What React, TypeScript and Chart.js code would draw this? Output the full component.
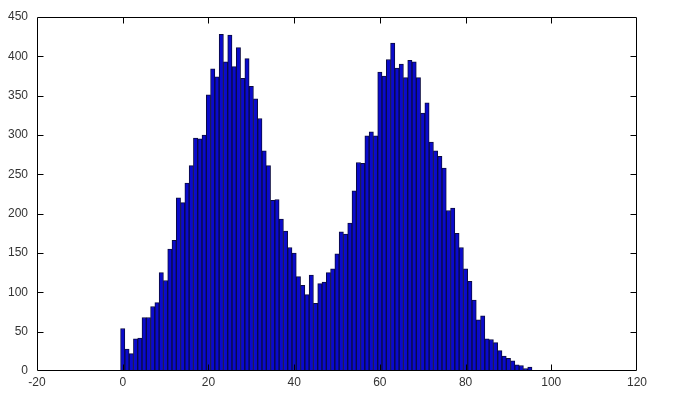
import React, { useEffect, useRef } from "react";
import { Chart, registerables } from "chart.js";

Chart.register(...registerables);

// Histogram bins (centered on integers 0..100)
const binCenters: number[] = Array.from({ length: 101 }, (_, i) => i);
const counts: number[] = [
  54, 28, 22, 41, 42, 68, 68, 82, 87, 125,
  115, 155, 166, 220, 214, 239, 261, 296, 295, 300,
  351, 384, 374, 428, 393, 427, 387, 411, 372, 397,
  362, 346, 321, 280, 261, 217, 218, 193, 178, 157,
  150, 120, 109, 97, 122, 86, 111, 113, 125, 130,
  149, 177, 174, 188, 229, 265, 264, 299, 304, 299,
  380, 375, 396, 417, 385, 390, 373, 395, 393, 373,
  328, 341, 291, 280, 273, 258, 204, 207, 175, 157,
  130, 114, 90, 65, 70, 41, 40, 36, 26, 19,
  16, 13, 8, 7, 3, 5, 0, 0, 0, 0,
  0,
];
const xTicks: number[] = [-20, 0, 20, 40, 60, 80, 100, 120];
const yTicks: number[] = [0, 50, 100, 150, 200, 250, 300, 350, 400, 450];

const framePlugin = {
  id: "frameTicks",
  afterDraw(chart: any) {
    const { ctx, chartArea, scales } = chart;
    const { left, right, top, bottom } = chartArea;
    const x = scales.x;
    const y = scales.y;
    ctx.save();
    ctx.strokeStyle = "#000";
    ctx.lineWidth = 1;
    const L = Math.round(left) + 0.5;
    const R = Math.round(right) - 0.5;
    const T = Math.round(top) + 0.5;
    const B = Math.round(bottom) - 0.5;
    ctx.beginPath();
    ctx.rect(L, T, R - L, B - T);
    const tl = 6;
    xTicks.forEach((v) => {
      if (v === xTicks[0] || v === xTicks[xTicks.length - 1]) return;
      const px = Math.round(x.getPixelForValue(v)) + 0.5;
      ctx.moveTo(px, B);
      ctx.lineTo(px, B - tl);
      ctx.moveTo(px, T);
      ctx.lineTo(px, T + tl);
    });
    yTicks.forEach((v) => {
      if (v === yTicks[0] || v === yTicks[yTicks.length - 1]) return;
      const py = Math.round(y.getPixelForValue(v)) + 0.5;
      ctx.moveTo(L, py);
      ctx.lineTo(L + tl, py);
      ctx.moveTo(R, py);
      ctx.lineTo(R - tl, py);
    });
    ctx.stroke();
    ctx.restore();
  },
};

export default function App() {
  const ref = useRef<HTMLCanvasElement | null>(null);
  useEffect(() => {
    if (!ref.current) return;
    const chart = new Chart(ref.current, {
      type: "bar",
      data: {
        datasets: [
          {
            data: binCenters.map((c, i) => ({ x: c, y: counts[i] })),
            backgroundColor: "#0a0acc",
            borderColor: "#0b0b40",
            borderWidth: 1,
            borderSkipped: false,
            barPercentage: 1,
            categoryPercentage: 1,
          },
        ],
      },
      options: {
        responsive: false,
        animation: false,
        layout: { padding: { left: 0, top: 17, right: 38, bottom: 0 } },
        plugins: { legend: { display: false }, tooltip: { enabled: false } },
        scales: {
          x: {
            type: "linear",
            offset: false,
            min: -20,
            max: 120,
            afterFit: (s: any) => {
              s.height = 34;
            },
            afterBuildTicks: (s: any) => {
              s.ticks = xTicks.map((v) => ({ value: v }));
            },
            grid: { display: false, drawTicks: false, offset: false },
            border: { display: false },
            ticks: {
              padding: 4,
              color: "#333",
              font: { family: "Liberation Sans, Arial, sans-serif", size: 12 },
              maxRotation: 0,
              autoSkip: false,
            },
          },
          y: {
            type: "linear",
            min: 0,
            max: 450,
            afterFit: (s: any) => {
              s.width = 37;
            },
            afterBuildTicks: (s: any) => {
              s.ticks = yTicks.map((v) => ({ value: v }));
            },
            grid: { display: false, drawTicks: false },
            border: { display: false },
            ticks: {
              padding: 9,
              color: "#333",
              font: { family: "Liberation Sans, Arial, sans-serif", size: 12 },
              autoSkip: false,
            },
          },
        },
      },
      plugins: [framePlugin],
    });
    return () => chart.destroy();
  }, []);
  return (
    <canvas
      ref={ref}
      width={675}
      height={405}
      style={{ position: "absolute", left: 0, top: 0, width: 675, height: 405, background: "#fff" }}
    />
  );
}
